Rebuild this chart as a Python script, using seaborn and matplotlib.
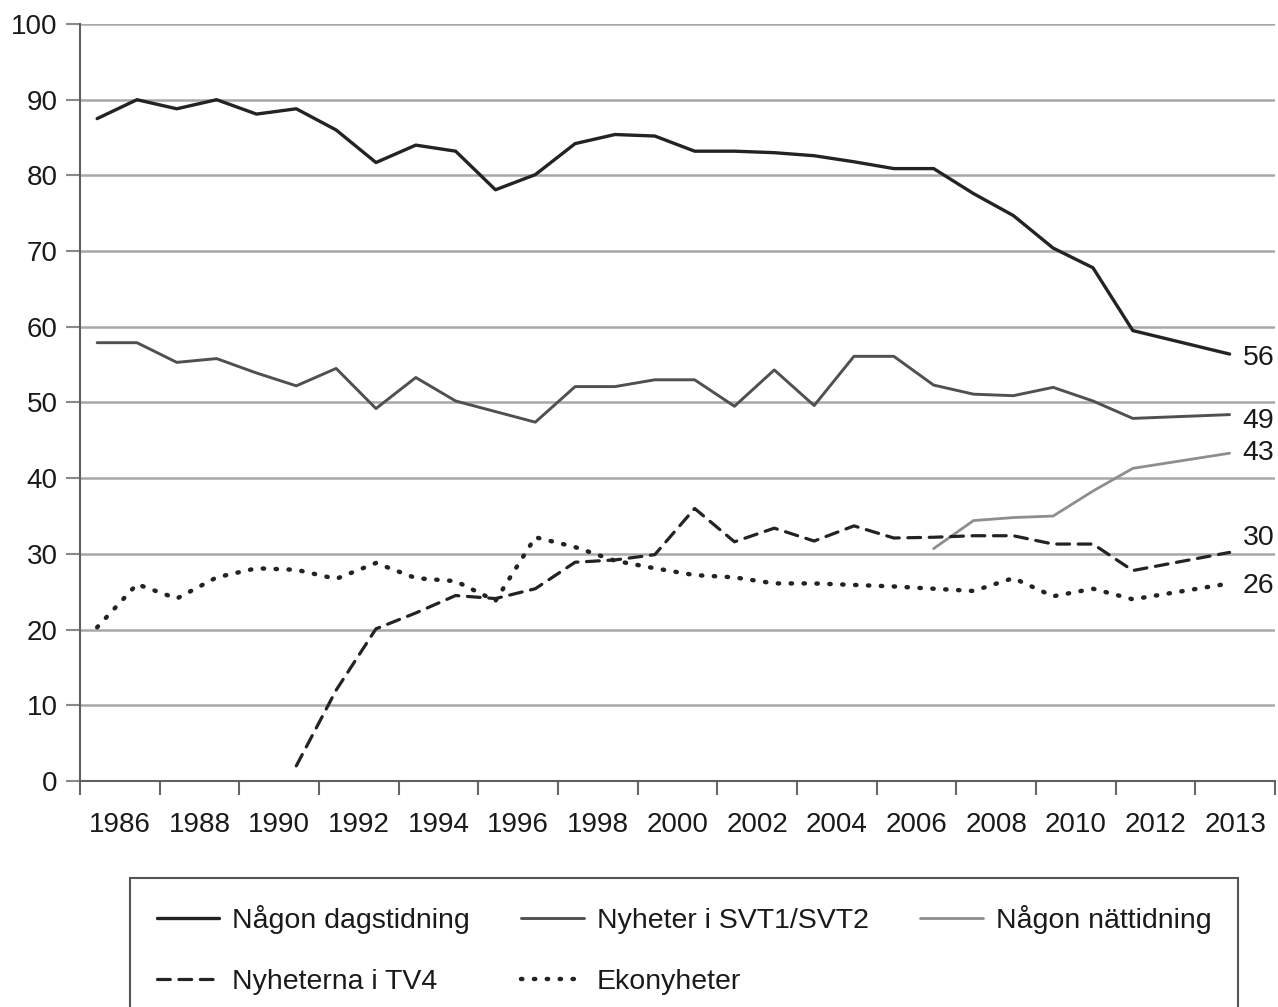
import numpy as np
import pandas as pd
import matplotlib
matplotlib.use("Agg")
import matplotlib.pyplot as plt
from matplotlib.lines import Line2D
import seaborn as sns

# ---------------- data ----------------
years = list(range(1986, 2014))
dagstidning = [87.5, 90.0, 88.8, 90.0, 88.1, 88.8, 86.0, 81.7, 84.0, 83.2,
               78.1, 80.1, 84.2, 85.4, 85.2, 83.2, 83.2, 83.0, 82.6, 81.8,
               80.9, 80.9, 77.6, 74.7, 70.4, 67.8, 59.5, 56.4]
svt = [57.9, 57.9, 55.3, 55.8, 53.9, 52.2, 54.5, 49.2, 53.3, 50.2,
       48.8, 47.4, 52.1, 52.1, 53.0, 53.0, 49.5, 54.3, 49.6, 56.1,
       56.1, 52.3, 51.1, 50.9, 52.0, 50.2, 47.9, 48.4]
natt_years = list(range(2007, 2014))
natt = [30.7, 34.4, 34.8, 35.0, 38.3, 41.3, 43.3]
tv4_years = list(range(1991, 2014))
tv4 = [2.0, 12.0, 20.1, 22.2, 24.5, 24.1, 25.4, 28.9, 29.2, 29.9,
       36.0, 31.6, 33.4, 31.7, 33.7, 32.1, 32.2, 32.4, 32.4, 31.3,
       31.3, 27.8, 30.2]
eko = [20.3, 26.0, 24.1, 26.9, 28.1, 27.9, 26.7, 28.8, 26.8, 26.4,
       23.8, 32.2, 30.9, 29.1, 28.1, 27.2, 26.9, 26.1, 26.1, 25.9,
       25.7, 25.4, 25.1, 26.8, 24.4, 25.4, 24.0, 26.1]

series_names = ["Någon dagstidning", "Nyheter i SVT1/SVT2", "Någon nättidning",
                "Nyheterna i TV4", "Ekonyheter"]
end_labels = ["56", "49", "43", "30", "26"]
x_tick_labels = ["1986", "1988", "1990", "1992", "1994", "1996", "1998", "2000",
                 "2002", "2004", "2006", "2008", "2010", "2012", "2013"]
y_ticks = [0, 10, 20, 30, 40, 50, 60, 70, 80, 90, 100]

# ---------------- layout / style constants ----------------
FIRST_YEAR = 1986
LEFT_EDGE = -0.43          # axis start in year-slot units
LAST_GAP = 1.43            # extra spacing before final (2013) point
W, H = 1278, 1007
FS = 20

def xpos(yrs):
    p = np.array(yrs, dtype=float) - FIRST_YEAR
    p[np.array(yrs) == 2013] += LAST_GAP
    return p

sns.set_theme(style="white")
plt.rcParams["font.family"] = ["Liberation Sans", "DejaVu Sans"]

fig = plt.figure(figsize=(W / 100, H / 100), dpi=100)
ax = fig.add_axes([80 / W, 1 - 781 / H, (1275 - 80) / W, (781 - 24) / H])

styles = [
    dict(color="#232323", lw=2.4, ls="-"),
    dict(color="#505050", lw=2.1, ls="-"),
    dict(color="#8e8e8e", lw=2.0, ls="-"),
    dict(color="#232323", lw=2.3, ls=(0, (4.0, 2.7))),
    dict(color="#232323", lw=3.2, ls=(0, (0.3, 2.6))),
]
all_x = [years, years, natt_years, tv4_years, years]
all_y = [dagstidning, svt, natt, tv4, eko]
label_dy = [-3, -4.5, 0, 10.5, -1.5]   # points

handles = []
for name, xs, ys, st, lab, dy in zip(series_names, all_x, all_y, styles,
                                     end_labels, label_dy):
    df = pd.DataFrame({"pos": xpos(xs), "value": ys})
    sns.lineplot(data=df, x="pos", y="value", ax=ax, color=st["color"],
                 linewidth=st["lw"], linestyle=st["ls"], sort=False,
                 estimator=None, legend=False)
    line = ax.lines[-1]
    line.set_dash_capstyle("round")
    ax.annotate(lab, xy=(df["pos"].iloc[-1], df["value"].iloc[-1]),
                xytext=(9.4, dy), textcoords="offset points",
                ha="left", va="center", fontsize=FS + 0.5, color="#1a1a1a",
                annotation_clip=False)
    handles.append(Line2D([], [], color=st["color"], lw=st["lw"],
                          linestyle=st["ls"], dash_capstyle="round"))

# axes
ax.set_xlim(LEFT_EDGE, LEFT_EDGE + 30)
ax.set_ylim(0, 100)
ax.set_xlabel("")
ax.set_ylabel("")
ax.set_xticks(LEFT_EDGE + 2 * np.arange(16))
ax.set_xticklabels([])
ax.set_xticks(LEFT_EDGE + 1 + 2 * np.arange(len(x_tick_labels)), minor=True)
ax.set_xticklabels(x_tick_labels, minor=True, fontsize=FS, color="#1a1a1a")
ax.tick_params(axis="x", which="major", direction="out", length=10,
               width=1.5, color="#666666", bottom=True)
ax.tick_params(axis="x", which="minor", length=0, pad=22, bottom=True)
ax.set_yticks(y_ticks)
ax.set_yticklabels([str(v) for v in y_ticks], fontsize=FS, color="#1a1a1a")
ax.tick_params(axis="y", which="major", direction="out", length=10,
               width=1.5, color="#8a8a8a", left=True, pad=6)

ax.yaxis.grid(True, color="#a8a8a8", lw=1.8)
ax.xaxis.grid(False)
ax.set_axisbelow(True)
for side in ["top", "right"]:
    ax.spines[side].set_visible(False)
for side in ["left", "bottom"]:
    ax.spines[side].set_color("#606060")
    ax.spines[side].set_linewidth(1.5)

# legend (column-major order for 3 columns)
order = [0, 3, 1, 4, 2]
top = 1 - 878 / H
leg = fig.legend([handles[i] for i in order], [series_names[i] for i in order],
                 ncol=3, loc="upper left",
                 bbox_to_anchor=(130 / W, -0.4, (1238 - 130) / W, top + 0.4),
                 mode="expand", borderaxespad=0, fontsize=FS + 0.5,
                 handlelength=2.2, handletextpad=0.45, labelspacing=1.25,
                 borderpad=0.94, frameon=True, fancybox=False,
                 framealpha=1, edgecolor="#555555")
leg.get_frame().set_linewidth(1.5)
for t in leg.get_texts():
    t.set_color("#1a1a1a")

fig.savefig("out.png", dpi=100)
